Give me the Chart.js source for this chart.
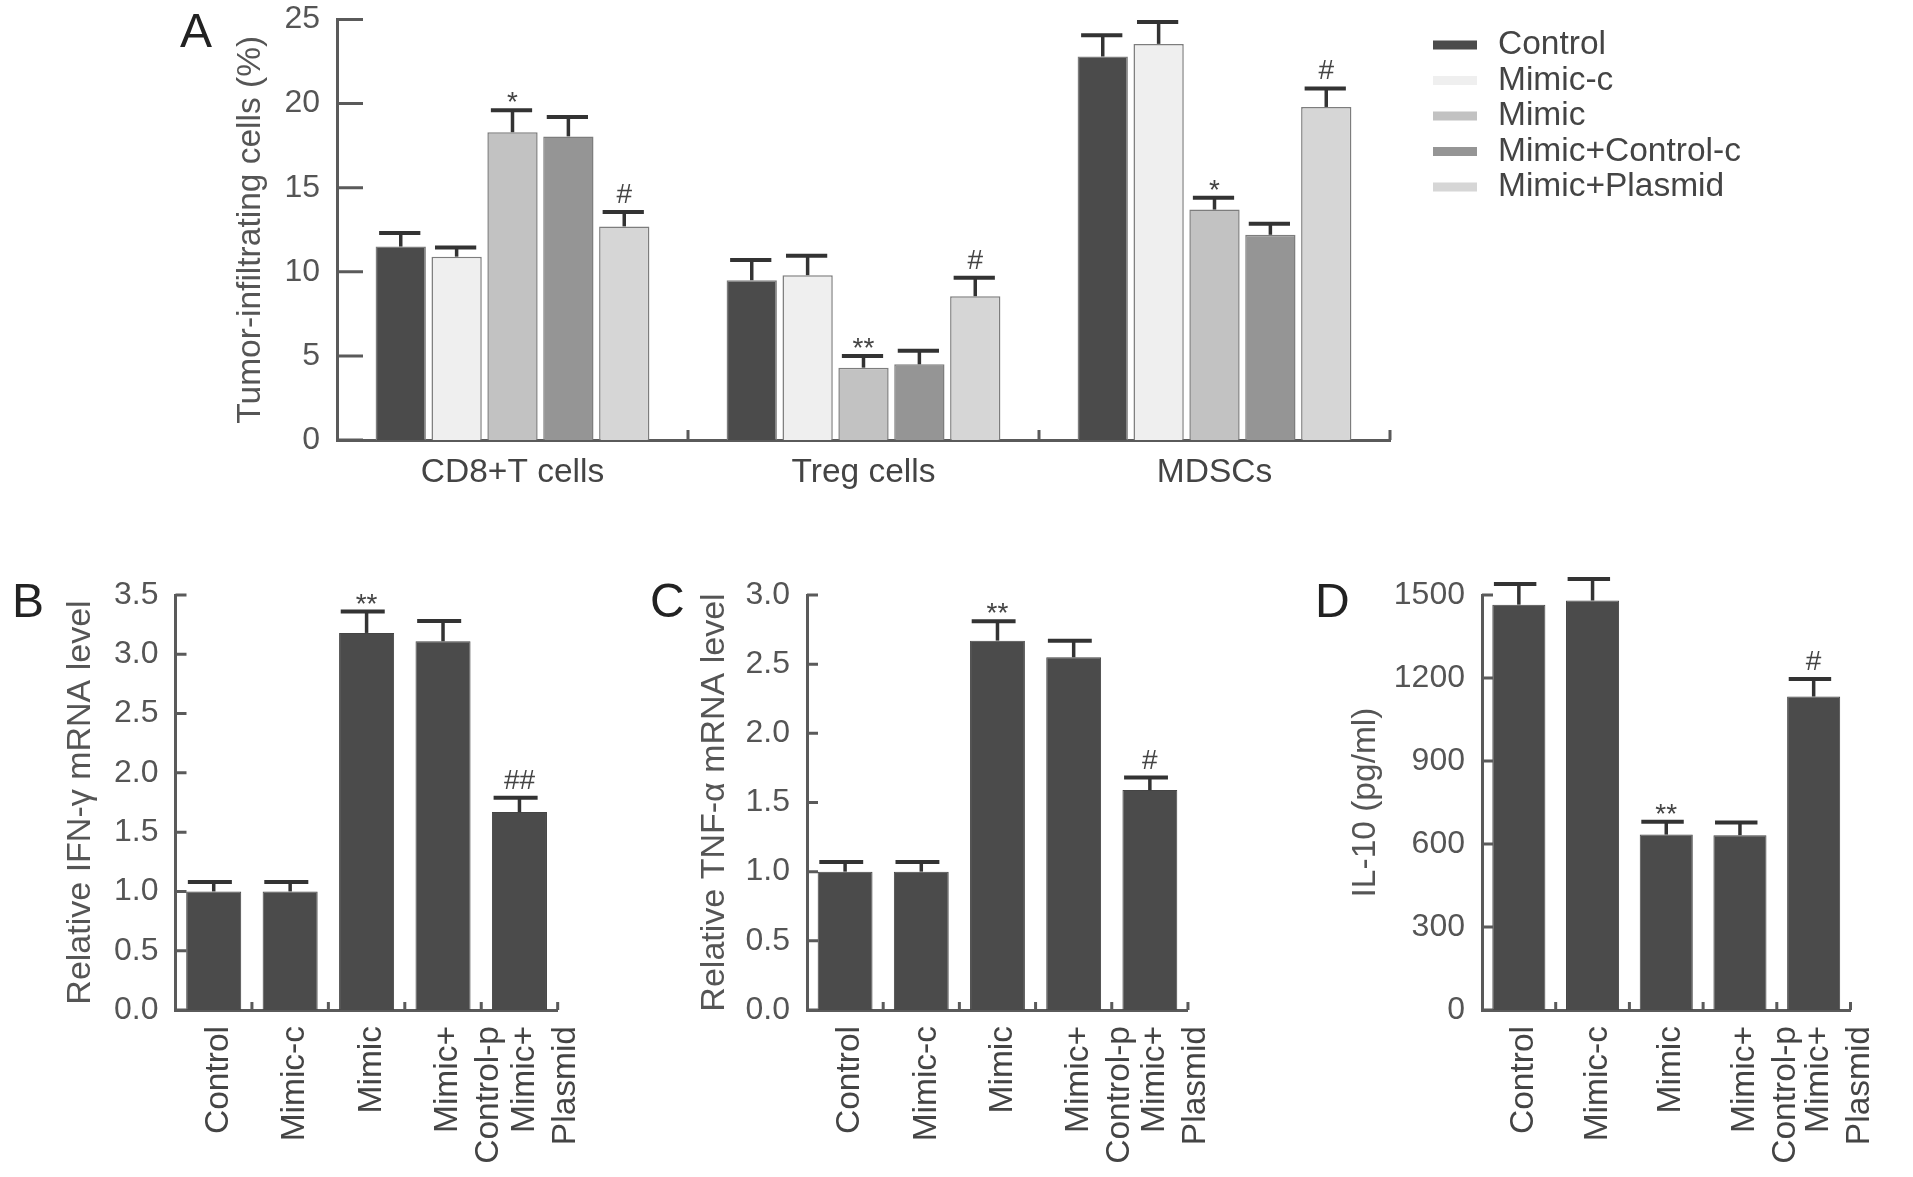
<!DOCTYPE html>
<html lang="en">
<head>
<meta charset="UTF-8">
<script src="https://cdn.jsdelivr.net/npm/chart.js"></script>
<style>
  body { margin: 0; background: #fff; font-family: "Liberation Sans", Arial, sans-serif; }
  #page { position: relative; width: 1913px; height: 1177px; overflow: hidden; background: #fff; }
  canvas { position: absolute; }
  .panel { position: absolute; font-size: 48px; line-height: 48px; color: #222; }
</style>
</head>
<body>
<div id="page">
  <canvas id="chartA" width="1913" height="520" style="left:0;top:0"></canvas>
  <canvas id="chartB" width="620" height="617" style="left:0;top:560px"></canvas>
  <canvas id="chartC" width="620" height="617" style="left:630px;top:560px"></canvas>
  <canvas id="chartD" width="653" height="617" style="left:1260px;top:560px"></canvas>
  <div class="panel" style="left:180px;top:7px">A</div>
  <div class="panel" style="left:12px;top:577px">B</div>
  <div class="panel" style="left:650px;top:577px">C</div>
  <div class="panel" style="left:1315px;top:577px">D</div>
</div>
<script>
// ---- panel A data ----
const groupLabels = ['CD8+T cells', 'Treg cells', 'MDSCs'];
const treatments = ['Control', 'Mimic-c', 'Mimic', 'Mimic+Control-c', 'Mimic+Plasmid'];
const treatmentColors = ['#4b4b4b', '#efefef', '#c2c2c2', '#959595', '#d6d6d6'];

const controlPct = [11.5, 9.5, 22.8];
const mimicCPct = [10.9, 9.8, 23.55];
const mimicPct = [18.3, 4.3, 13.7];
const mimicCtrlCPct = [18.05, 4.5, 12.2];
const mimicPlasmidPct = [12.7, 8.55, 19.8];

const controlErr = [0.8, 1.2, 1.27];
const mimicCErr = [0.55, 1.15, 1.3];
const mimicErr = [1.3, 0.7, 0.7];
const mimicCtrlCErr = [1.15, 0.8, 0.65];
const mimicPlasmidErr = [0.85, 1.1, 1.1];

const mimicSig = ['*', '**', '*'];
const plasmidSig = ['#', '#', '#'];
const noSig = ['', '', ''];

// ---- panels B, C, D data ----
const groupNames = ['Control', 'Mimic-c', 'Mimic', ['Mimic+', 'Control-p'], ['Mimic+', 'Plasmid']];

const ifnLevel = [1.0, 1.0, 3.18, 3.11, 1.67];
const ifnErr = [0.08, 0.08, 0.18, 0.17, 0.12];
const ifnSig = ['', '', '**', '', '##'];

const tnfLevel = [1.0, 1.0, 2.67, 2.55, 1.59];
const tnfErr = [0.07, 0.07, 0.14, 0.12, 0.09];
const tnfSig = ['', '', '**', '', '#'];

const il10Level = [1465, 1480, 634, 632, 1133];
const il10Err = [75, 78, 46, 46, 63];
const il10Sig = ['', '', '**', '', '#'];

const FONT = '"Liberation Sans", Arial, sans-serif';
Chart.defaults.font.family = FONT;
Chart.defaults.color = '#555';

const axisColor = '#5a5a5a';
const textSize = 33.5;

// error bars + significance marks, drawn from the bar elements and the y scale
const errorBars = {
  id: 'errorBars',
  afterDatasetsDraw(chart, args, opts) {
    const ctx = chart.ctx;
    const yScale = chart.scales.y;
    ctx.save();
    chart.data.datasets.forEach((ds, i) => {
      const meta = chart.getDatasetMeta(i);
      meta.data.forEach((bar, j) => {
        const top = yScale.getPixelForValue(ds.data[j] + ds.errors[j]);
        const capW = bar.width * opts.capFrac;
        const capX = bar.x - bar.width * opts.capShift;
        ctx.strokeStyle = '#333';
        ctx.lineWidth = 3.5;
        ctx.beginPath();
        ctx.moveTo(bar.x, bar.y);
        ctx.lineTo(bar.x, top);
        ctx.stroke();
        ctx.lineWidth = 4;
        ctx.beginPath();
        ctx.moveTo(capX - capW / 2, top);
        ctx.lineTo(capX + capW / 2, top);
        ctx.stroke();
        const mark = ds.marks[j];
        if (mark) {
          ctx.fillStyle = '#444';
          ctx.font = '28px ' + FONT;
          ctx.textAlign = 'center';
          ctx.textBaseline = 'alphabetic';
          const lift = mark.includes('#') ? 9 : -1;
          ctx.fillText(mark, bar.x, top - lift);
        }
      });
    });
    ctx.restore();
  }
};

// inward tick marks on both axes
const innerTicks = {
  id: 'innerTicks',
  afterDraw(chart, args, opts) {
    const ctx = chart.ctx;
    const {left, bottom} = chart.chartArea;
    const x = chart.scales.x, y = chart.scales.y;
    ctx.save();
    ctx.strokeStyle = axisColor;
    ctx.lineWidth = 3;
    ctx.beginPath();
    y.ticks.forEach((t, i) => {
      const py = y.getPixelForTick(i);
      ctx.moveTo(left, py);
      ctx.lineTo(left + opts.yLen, py);
    });
    for (let i = 0; i < chart.data.labels.length; i++) {
      const px = x.getPixelForValue(i + 0.5);
      ctx.moveTo(px, bottom);
      ctx.lineTo(px, bottom - opts.xLen);
    }
    ctx.stroke();
    ctx.restore();
  }
};

// legend to the right of panel A
const sideLegend = {
  id: 'sideLegend',
  afterDraw(chart, args, opts) {
    const ctx = chart.ctx;
    ctx.save();
    ctx.font = textSize + 'px ' + FONT;
    ctx.textBaseline = 'middle';
    ctx.textAlign = 'left';
    chart.data.datasets.forEach((ds, i) => {
      const cy = opts.y + i * opts.step;
      ctx.fillStyle = ds.backgroundColor;
      ctx.fillRect(opts.x, cy - 4.5, 44, 9);
      ctx.fillStyle = '#444';
      ctx.fillText(ds.label, opts.x + 65, cy);
    });
    ctx.restore();
  }
};

function makeYAxis(cfg) {
  return {
    min: 0,
    max: cfg.max,
    afterFit: s => {
      s.width = cfg.width;
      // keep the plot area where the layout padding puts it
      s.paddingTop = 0;
      s.paddingBottom = 0;
    },
    grid: { display: false, drawTicks: false },
    border: { display: true, color: axisColor, width: 3 },
    ticks: {
      stepSize: cfg.step,
      padding: 17,
      color: '#555',
      font: { size: 32 },
      callback: cfg.fmt
    },
    title: {
      display: true,
      text: cfg.title,
      color: '#555',
      font: { size: cfg.titleSize || textSize },
      padding: { top: cfg.titlePad, bottom: 0 }
    }
  };
}

// panel A
const seriesA = [
  [controlPct, controlErr, noSig],
  [mimicCPct, mimicCErr, noSig],
  [mimicPct, mimicErr, mimicSig],
  [mimicCtrlCPct, mimicCtrlCErr, noSig],
  [mimicPlasmidPct, mimicPlasmidErr, plasmidSig]
];

new Chart(document.getElementById('chartA'), {
  type: 'bar',
  data: {
    labels: groupLabels,
    datasets: seriesA.map((s, i) => ({
      label: treatments[i],
      data: s[0],
      errors: s[1],
      marks: s[2],
      backgroundColor: treatmentColors[i],
      borderColor: '#7d7d7d',
      borderWidth: 1.5,
      categoryPercentage: 0.796,
      barPercentage: 0.9
    }))
  },
  options: {
    responsive: false,
    animation: false,
    devicePixelRatio: 1,
    layout: { padding: { left: 0, top: 19.5, right: 523, bottom: 0 } },
    plugins: {
      legend: { display: false },
      tooltip: { enabled: false },
      errorBars: { capFrac: 0.82, capShift: 0.02 },
      innerTicks: { yLen: 26, xLen: 10 },
      sideLegend: { x: 1433, y: 45, step: 35.5 }
    },
    scales: {
      x: {
        afterFit: s => { s.height = 80; },
        grid: { display: false, drawTicks: false },
        border: { display: true, color: axisColor, width: 3 },
        ticks: { padding: 13, color: '#444', font: { size: textSize } }
      },
      y: makeYAxis({ max: 25, step: 5, width: 337, titlePad: 231,
        title: 'Tumor-infiltrating cells (%)', fmt: v => v })
    }
  },
  plugins: [errorBars, innerTicks, sideLegend]
});

// panels B, C, D
function smallPanel(id, values, errors, marks, yCfg, padRight) {
  new Chart(document.getElementById(id), {
    type: 'bar',
    data: {
      labels: groupNames,
      datasets: [{
        label: yCfg.title,
        data: values,
        errors: errors,
        marks: marks,
        backgroundColor: '#4b4b4b',
        borderColor: '#444',
        borderWidth: 1,
        categoryPercentage: 1,
        barPercentage: 0.72
      }]
    },
    options: {
      responsive: false,
      animation: false,
      devicePixelRatio: 1,
      layout: { padding: { left: 0, top: 35, right: padRight, bottom: 0 } },
      plugins: {
        legend: { display: false },
        tooltip: { enabled: false },
        errorBars: { capFrac: 0.8, capShift: 0.07 },
        innerTicks: { yLen: 11, xLen: 8 }
      },
      scales: {
        x: {
          afterFit: s => { s.height = 167; },
          grid: { display: false, drawTicks: false },
          border: { display: true, color: axisColor, width: 3 },
          ticks: { padding: 16, labelOffset: 5, color: '#444',
            font: { size: textSize, lineHeight: 1.22 },
            minRotation: 90, maxRotation: 90, autoSkip: false }
        },
        y: makeYAxis(yCfg)
      }
    },
    plugins: [errorBars, innerTicks]
  });
}

smallPanel('chartB', ifnLevel, ifnErr, ifnSig,
  { max: 3.5, step: 0.5, width: 175.5, titlePad: 60, titleSize: 34,
    title: 'Relative IFN-\u03b3 mRNA level', fmt: v => v.toFixed(1) }, 28);
smallPanel('chartC', tnfLevel, tnfErr, tnfSig,
  { max: 3.0, step: 0.5, width: 177, titlePad: 64, titleSize: 34,
    title: 'Relative TNF-\u03b1 mRNA level', fmt: v => v.toFixed(1) }, 24);
smallPanel('chartD', il10Level, il10Err, il10Sig,
  { max: 1500, step: 300, width: 222, titlePad: 86,
    title: 'IL-10 (pg/ml)', fmt: v => v }, 16);
</script>
</body>
</html>
